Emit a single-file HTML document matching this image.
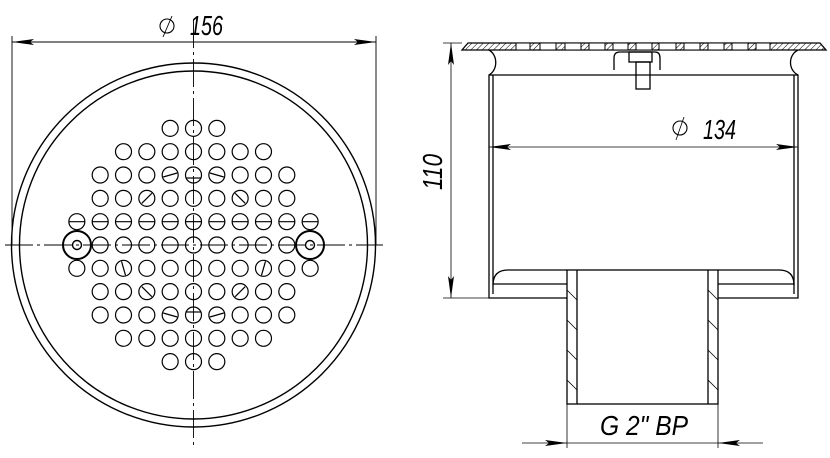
<!DOCTYPE html>
<html><head><meta charset="utf-8"><style>
html,body{margin:0;padding:0;background:#fff;width:830px;height:458px;overflow:hidden}
svg{display:block}
text{font-family:"Liberation Sans",sans-serif;font-style:italic;fill:#000}
</style></head><body>
<svg id="s" width="830" height="458" viewBox="0 0 830 458" xmlns="http://www.w3.org/2000/svg">
<defs>
<pattern id="h" width="4" height="4" patternUnits="userSpaceOnUse" patternTransform="rotate(45)"><line x1="0" y1="0" x2="0" y2="4" stroke="#000" stroke-width="1"/></pattern>
</defs>
<g fill="none" stroke="#000" stroke-width="1.4">
<circle cx="193.5" cy="245" r="182"/>
<circle cx="193.5" cy="245" r="174"/>
<g id="holes" stroke-width="1.2"></g>
<circle cx="77" cy="245" r="14" stroke-width="2"/><circle cx="77" cy="245" r="4.5" stroke-width="1.4"/>
<circle cx="310" cy="245" r="14" stroke-width="2"/><circle cx="310" cy="245" r="4.5" stroke-width="1.4"/>
</g>
<g stroke="#000" stroke-width="0.9" fill="none">
<line x1="5" y1="245" x2="383" y2="245" stroke-dasharray="28,4,3,4"/>
<line x1="193.5" y1="20" x2="193.5" y2="445" stroke-dasharray="28,4,3,4"/>
<line x1="12" y1="36" x2="12" y2="245"/>
<line x1="376" y1="36" x2="376" y2="245"/>
<line x1="12" y1="42" x2="376" y2="42"/>
<line x1="163" y1="37" x2="172" y2="16"/>
</g>
<g fill="#000">
<polygon points="12,42 34,39 30,42 34,45"/>
<polygon points="376,42 354,39 358,42 354,45"/>
</g>
<circle cx="167" cy="26" r="7" fill="none" stroke="#000" stroke-width="1.1"/>
<text x="190" y="35" font-size="28" textLength="33" lengthAdjust="spacingAndGlyphs">156</text>

<g fill="none" stroke="#000" stroke-width="1.3">
<path d="M462,50 L468,43 L820,43 L826,50 Z" fill="url(#h)"/>
<path d="M489,50 C498,55 498,70 489,75 L489,298 L567,298 M798,50 C788,55 788,70 798,75 L798,298 L718,298"/>
<path d="M493,75 L493,294 M794,75 L794,294"/>
<line x1="489" y1="75" x2="798" y2="75"/>
<path d="M493,285 C493,275 498,270 508,270 L567,270 M493,284 L567,284"/>
<path d="M794,285 C794,275 789,270 779,270 L718,270 M794,284 L718,284"/>
<rect x="567" y="270" width="151" height="134"/>
<line x1="577" y1="270" x2="577" y2="404"/>
<line x1="708" y1="270" x2="708" y2="404"/>
<path d="M614,70 L614,58 Q614,52 620,52 L655,52 Q660,52 660,58 L660,70"/>
<rect x="629" y="52" width="23" height="10"/>
<rect x="636" y="62" width="14" height="27"/>
</g>
<g fill="#fff" stroke="#000" stroke-width="1">
<rect x="516" y="43" width="14" height="7"/><rect x="540" y="43" width="16" height="7"/><rect x="565" y="43" width="16" height="7"/><rect x="589" y="43" width="16" height="7"/><rect x="613" y="43" width="15" height="7"/><rect x="636" y="43" width="16" height="7"/><rect x="659" y="43" width="17" height="7"/><rect x="684" y="43" width="16" height="7"/><rect x="708" y="43" width="16" height="7"/><rect x="732" y="43" width="16" height="7"/><rect x="756" y="43" width="14" height="7"/>
</g>
<g stroke="#000" stroke-width="0.8">
<line x1="567" y1="290" x2="577" y2="300"/><line x1="567" y1="320" x2="577" y2="330"/><line x1="567" y1="350" x2="577" y2="360"/><line x1="567" y1="380" x2="577" y2="390"/>
<line x1="708" y1="290" x2="718" y2="300"/><line x1="708" y1="320" x2="718" y2="330"/><line x1="708" y1="350" x2="718" y2="360"/><line x1="708" y1="380" x2="718" y2="390"/>
<line x1="443" y1="43" x2="462" y2="43"/><line x1="443" y1="298" x2="489" y2="298"/>
<line x1="451" y1="43" x2="451" y2="298"/>
<line x1="489" y1="147" x2="798" y2="147"/>
<line x1="567" y1="404" x2="567" y2="448"/><line x1="718" y1="404" x2="718" y2="448"/>
<line x1="522" y1="443" x2="763" y2="443"/>
<line x1="676" y1="140" x2="684" y2="117"/>
</g>
<g fill="#000">
<polygon points="451,43 448,65 451,61 454,65"/>
<polygon points="451,298 448,276 451,280 454,276"/>
<polygon points="489,147 511,144 507,147 511,150"/>
<polygon points="798,147 776,144 780,147 776,150"/>
<polygon points="567,443 545,440 549,443 545,446"/>
<polygon points="718,443 740,440 736,443 740,446"/>
</g>
<circle cx="680" cy="128" r="7" fill="none" stroke="#000" stroke-width="1.1"/>
<text x="703" y="139" font-size="28" textLength="33" lengthAdjust="spacingAndGlyphs">134</text>
<text x="600" y="435" font-size="28" textLength="88" lengthAdjust="spacingAndGlyphs">G 2" BP</text>
<text transform="translate(442,190) rotate(-90)" font-size="28" textLength="36" lengthAdjust="spacingAndGlyphs">110</text>
</svg>
<script>
(function(){
var g=document.getElementById('holes'),ns='http://www.w3.org/2000/svg';
var cx=193.5,cy=245,p=23.33,r=8;
var rows={'-5':1,'-4':3,'-3':4,'-2':4,'-1':5,'0':4,'1':5,'2':4,'3':4,'4':3,'5':1};
var slash={'-3,-1':[-7,2,7,-2],'-3,1':[-7,-2,7,2],'-2,-2':[-5,5,5,-5],'-2,2':[-5,-5,5,5],'1,-3':[-2,-7,2,7],'1,3':[2,-7,-2,7],'2,-2':[-5,-5,5,5],'2,2':[-5,5,5,-5],'3,-1':[-7,-2,7,2],'3,1':[-7,2,7,-2],'-3,0':[-8,3,8,3],'3,0':[-8,-3,8,-3]};
for(var k in rows){var row=+k,n=rows[k];
 for(var c=-n;c<=n;c++){var x=cx+c*p,y=cy+row*p;
  var e=document.createElementNS(ns,'circle');e.setAttribute('cx',x);e.setAttribute('cy',y);e.setAttribute('r',r);g.appendChild(e);
  if(row===-1){var l=document.createElementNS(ns,'line');l.setAttribute('x1',x-8);l.setAttribute('x2',x+8);l.setAttribute('y1',y);l.setAttribute('y2',y);g.appendChild(l);}
  var s=slash[row+','+c];if(s){var l2=document.createElementNS(ns,'line');l2.setAttribute('x1',x+s[0]);l2.setAttribute('y1',y+s[1]);l2.setAttribute('x2',x+s[2]);l2.setAttribute('y2',y+s[3]);g.appendChild(l2);}
 }}
})();
</script>
</body></html>
